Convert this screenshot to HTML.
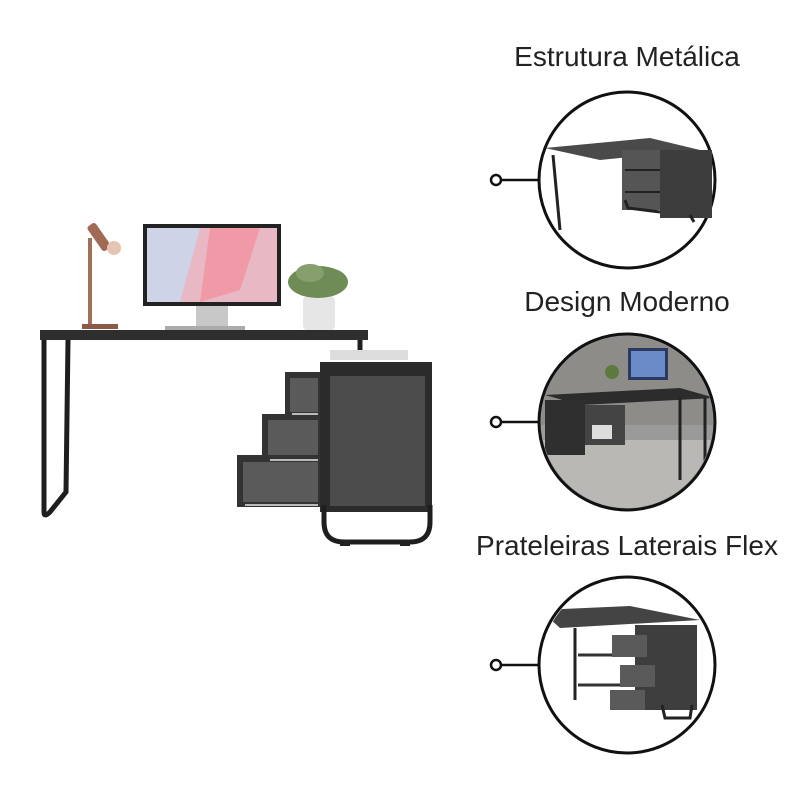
<!DOCTYPE html>
<html><head><meta charset="utf-8"><style>
html,body{margin:0;padding:0;background:#fff;}
svg{display:block}
text{font-family:"Liberation Sans",sans-serif;fill:#222}
</style></head><body>
<svg width="800" height="800" viewBox="0 0 800 800" xmlns="http://www.w3.org/2000/svg">
<text x="627" y="66" font-size="28" text-anchor="middle">Estrutura Metálica</text>
<text x="627" y="311" font-size="28" text-anchor="middle">Design Moderno</text>
<text x="627" y="555" font-size="28" text-anchor="middle">Prateleiras Laterais Flex</text>

<g stroke="#111" stroke-width="2.5" fill="#fff">
<line x1="500" y1="180" x2="540" y2="180"/><circle cx="496" cy="180" r="5"/>
<line x1="500" y1="422" x2="540" y2="422"/><circle cx="496" cy="422" r="5"/>
<line x1="500" y1="665" x2="540" y2="665"/><circle cx="496" cy="665" r="5"/>
</g>

<circle cx="627" cy="180" r="88" fill="#fff" stroke="#111" stroke-width="3"/>
<g>
<polygon points="545,148 650,138 700,150 600,160" fill="#4a4a4a"/>
<line x1="553" y1="155" x2="560" y2="230" stroke="#222" stroke-width="3"/>
<rect x="622" y="150" width="90" height="60" fill="#555"/>
<rect x="660" y="150" width="52" height="68" fill="#3d3d3d"/>
<line x1="625" y1="170" x2="660" y2="170" stroke="#222" stroke-width="2"/>
<line x1="625" y1="192" x2="660" y2="192" stroke="#222" stroke-width="2"/>
<path d="M625 200 L628 208 L660 212" stroke="#222" stroke-width="3" fill="none"/>
<path d="M690 215 L694 222" stroke="#222" stroke-width="3"/>
</g>

<circle cx="627" cy="422" r="88" fill="#9a9a98" stroke="#111" stroke-width="3"/>
<clipPath id="c2"><circle cx="627" cy="422" r="86"/></clipPath>
<g clip-path="url(#c2)">
<rect x="540" y="335" width="180" height="90" fill="#8d8c89"/>
<rect x="540" y="440" width="180" height="75" fill="#b9b8b5"/>
<rect x="628" y="348" width="40" height="32" fill="#2a3a60"/>
<rect x="631" y="351" width="34" height="26" fill="#6b8ac8"/>
<polygon points="545,395 680,388 715,398 580,405" fill="#2c2c2c"/>
<rect x="545" y="400" width="40" height="55" fill="#2f2f2f"/>
<rect x="585" y="405" width="40" height="40" fill="#444"/>
<rect x="592" y="425" width="20" height="14" fill="#ddd"/>
<line x1="680" y1="398" x2="680" y2="480" stroke="#222" stroke-width="3"/>
<line x1="705" y1="398" x2="705" y2="470" stroke="#222" stroke-width="3"/>
<circle cx="612" cy="372" r="7" fill="#5c7a3e"/>
</g>

<circle cx="627" cy="665" r="88" fill="#fff" stroke="#111" stroke-width="3"/>
<clipPath id="c3"><circle cx="627" cy="665" r="86"/></clipPath>
<g clip-path="url(#c3)">
<polygon points="540,610 630,606 700,620 560,628" fill="#444"/>
<line x1="575" y1="628" x2="575" y2="700" stroke="#222" stroke-width="3"/>
<rect x="635" y="625" width="62" height="85" fill="#3e3e3e"/>
<line x1="578" y1="655" x2="635" y2="655" stroke="#333" stroke-width="3"/>
<line x1="578" y1="685" x2="635" y2="685" stroke="#333" stroke-width="3"/>
<rect x="612" y="635" width="35" height="22" fill="#5a5a5a"/>
<rect x="620" y="665" width="35" height="22" fill="#5a5a5a"/>
<rect x="610" y="690" width="35" height="20" fill="#5a5a5a"/>
<path d="M662 705 L665 718 L690 718 L692 705" stroke="#222" stroke-width="3" fill="none"/>
</g>

<rect x="143" y="224" width="138" height="82" fill="#222"/>
<rect x="147" y="228" width="130" height="74" fill="#e8b8c4"/>
<path d="M147 228 L200 228 L180 302 L147 302 Z" fill="#cfd3e8"/>
<path d="M210 228 L260 228 L240 290 L200 302 Z" fill="#f09aa8"/>
<rect x="196" y="306" width="32" height="22" fill="#c8c8c8"/>
<rect x="165" y="326" width="80" height="4" fill="#aaa"/>
<rect x="88" y="238" width="4" height="88" fill="#a0705a"/>
<rect x="82" y="324" width="36" height="5" fill="#8a5a46"/>
<rect x="94" y="222" width="10" height="30" rx="3" fill="#a06a55" transform="rotate(-35 99 237)"/>
<circle cx="114" cy="248" r="7" fill="#e5c4b3"/>
<rect x="303" y="295" width="32" height="36" rx="6" fill="#e6e6e6"/>
<ellipse cx="318" cy="282" rx="30" ry="16" fill="#6f8c56"/>
<ellipse cx="310" cy="273" rx="14" ry="9" fill="#879f6c"/>
<rect x="40" y="330" width="328" height="10" fill="#2e2e2e"/>
<path d="M44 340 L44 512 Q44 518 50 512 L66 492 L68 340" stroke="#1e1e1e" stroke-width="5" fill="none"/>
<line x1="360" y1="340" x2="360" y2="360" stroke="#1e1e1e" stroke-width="5"/>
<rect x="330" y="350" width="78" height="10" fill="#ddd"/>
<rect x="320" y="362" width="112" height="150" fill="#2b2b2b"/>
<rect x="330" y="376" width="95" height="130" fill="#4c4c4c"/>
<path d="M324 505 L324 522 Q324 542 344 542 L410 542 Q430 542 430 522 L430 505" stroke="#1e1e1e" stroke-width="5" fill="none"/>
<rect x="340" y="540" width="10" height="6" fill="#222"/>
<rect x="400" y="540" width="10" height="6" fill="#222"/>
<rect x="285" y="372" width="35" height="44" fill="#333"/>
<rect x="290" y="378" width="28" height="34" fill="#5a5a5a"/>
<rect x="262" y="414" width="58" height="48" fill="#333"/>
<rect x="268" y="420" width="50" height="38" fill="#5a5a5a"/>
<rect x="237" y="455" width="83" height="52" fill="#333"/>
<rect x="243" y="462" width="75" height="40" fill="#5a5a5a"/>
<line x1="245" y1="505" x2="318" y2="505" stroke="#bbb" stroke-width="2"/>
<line x1="270" y1="460" x2="318" y2="460" stroke="#bbb" stroke-width="2"/>
<line x1="292" y1="414" x2="318" y2="414" stroke="#bbb" stroke-width="2"/>
</svg>
</body></html>
